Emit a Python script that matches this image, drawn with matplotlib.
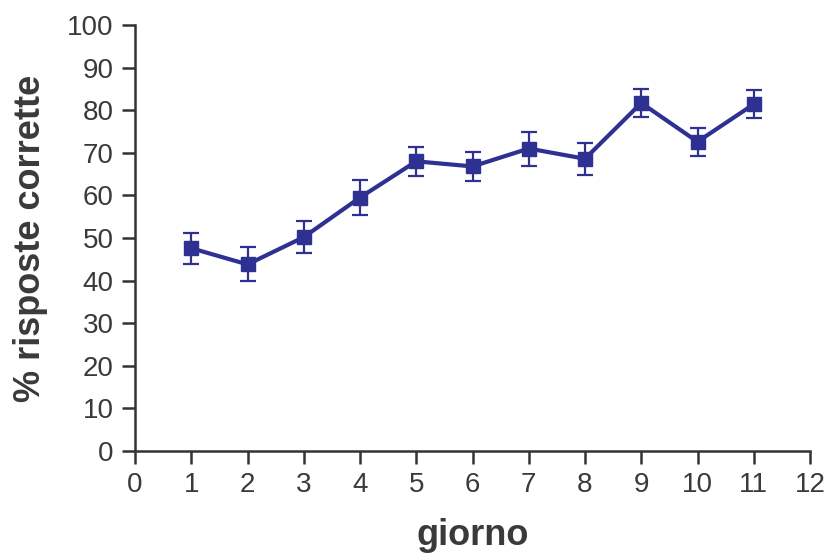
import numpy as np
import matplotlib.pyplot as plt

plt.rcParams['font.family'] = ['Liberation Sans', 'DejaVu Sans']

giorno = [1, 2, 3, 4, 5, 6, 7, 8, 9, 10, 11]
risposte = [47.6, 43.8, 50.2, 59.5, 68.0, 66.8, 71.0, 68.6, 81.7, 72.6, 81.4]
errore = [3.6, 4.0, 3.8, 4.1, 3.4, 3.4, 4.0, 3.8, 3.2, 3.3, 3.3]

blu = '#2e3192'
grigio = '#333333'

fig = plt.figure(figsize=(8.31, 5.56), dpi=100)
ax = fig.add_axes([135 / 831, 105 / 556, 675 / 831, 426 / 556])

ax.errorbar(giorno, risposte, yerr=errore, color=blu, lw=3.0,
            marker='s', markersize=10.5, elinewidth=1.6, capsize=5.7,
            capthick=1.6, zorder=3)

ax.set_xlim(0, 12)
ax.set_ylim(0, 100)
ax.set_xticks(range(0, 13))
ax.set_yticks(range(0, 101, 10))

for s in ['top', 'right']:
    ax.spines[s].set_visible(False)
for s in ['left', 'bottom']:
    ax.spines[s].set_color(grigio)
    ax.spines[s].set_linewidth(1.8)
ax.tick_params(colors=grigio, width=1.8, length=9.4, labelsize=20)
ax.tick_params(axis='y', pad=6)
ax.tick_params(axis='x', pad=6)
ax.tick_params(labelcolor='#3a3a3a')

ax.set_xlabel('giorno', fontsize=26, fontweight='bold', color='#3a3a3a', labelpad=14)
ax.set_ylabel('% risposte corrette', fontsize=26, fontweight='bold', color='#3a3a3a', labelpad=14)

fig.savefig('out.png', dpi=100)
